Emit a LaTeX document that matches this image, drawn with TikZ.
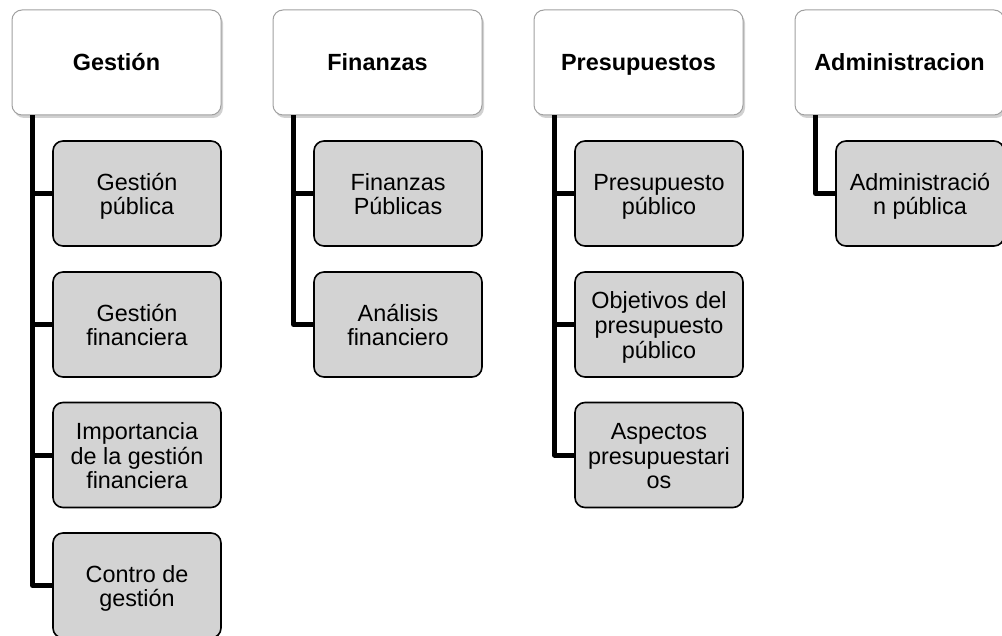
\documentclass[tikz,border=0pt]{standalone}
\usepackage{fontspec}
\setmainfont{Liberation Sans}
\usetikzlibrary{shadows}
\definecolor{childfill}{RGB}{211,211,211}
\definecolor{hdrborder}{RGB}{160,160,160}
\newcommand{\ms}{\rule[-10pt]{0pt}{38pt}}
\newcommand{\hs}{\rule[-10pt]{0pt}{36pt}}
\newcommand{\boxfont}{\fontsize{23.4}{24.6}\selectfont\lineskiplimit=-100pt\relax}
\tikzset{
  hdrbox/.style={draw=hdrborder, line width=1pt, fill=white, rounded corners=10pt,
    minimum width=209pt, minimum height=105pt, inner sep=0pt, align=center,
    font=\boxfont\bfseries,
    drop shadow={shadow xshift=2pt, shadow yshift=-3pt, opacity=0.3, fill=black!60}},
  childbox/.style={draw=black, line width=1.6pt, fill=childfill, rounded corners=10pt,
    minimum width=168pt, minimum height=105pt, inner sep=0pt, align=center,
    font=\boxfont},
  conn/.style={line width=5pt, draw=black, line join=round}
}
\begin{document}
\begin{tikzpicture}[x=1pt,y=-1pt]
\useasboundingbox (0,0) rectangle (1002,636);
% headers
\node[hdrbox] (g) at (116.5,62.5) {\hs Gestión};
\node[hdrbox] (f) at (377.5,62.5) {\hs Finanzas};
\node[hdrbox] (p) at (638.5,62.5) {\hs Presupuestos};
\node[hdrbox] (a) at (899.5,62.5) {\hs Administracion};
% Gestión children
\node[childbox] (g1) at (137,193.5) {\ms Gestión\\\ms pública};
\node[childbox] (g2) at (137,324.5) {\ms Gestión\\\ms financiera};
\node[childbox] (g3) at (137,455) {\ms Importancia\\\ms de la gestión\\\ms financiera};
\node[childbox] (g4) at (137,585.5) {\ms Contro de\\\ms gestión};
% Finanzas children
\node[childbox] (f1) at (398,193.5) {\ms Finanzas\\\ms Públicas};
\node[childbox] (f2) at (398,324.5) {\ms Análisis\\\ms financiero};
% Presupuestos children
\node[childbox] (p1) at (659,193.5) {\ms Presupuesto\\\ms público};
\node[childbox] (p2) at (659,324.5) {\ms Objetivos del\\\ms presupuesto\\\ms público};
\node[childbox] (p3) at (659,455) {\ms Aspectos\\\ms presupuestari\\\ms os};
% Administracion child
\node[childbox] (a1) at (920,193.5) {\ms Administració\\\ms n pública};
% connectors
\foreach \c in {g1,g2,g3,g4} \draw[conn] ([xshift=21pt]g.south west) |- (\c.west);
\foreach \c in {f1,f2} \draw[conn] ([xshift=21pt]f.south west) |- (\c.west);
\foreach \c in {p1,p2,p3} \draw[conn] ([xshift=21pt]p.south west) |- (\c.west);
\draw[conn] ([xshift=21pt]a.south west) |- (a1.west);
\end{tikzpicture}
\end{document}
